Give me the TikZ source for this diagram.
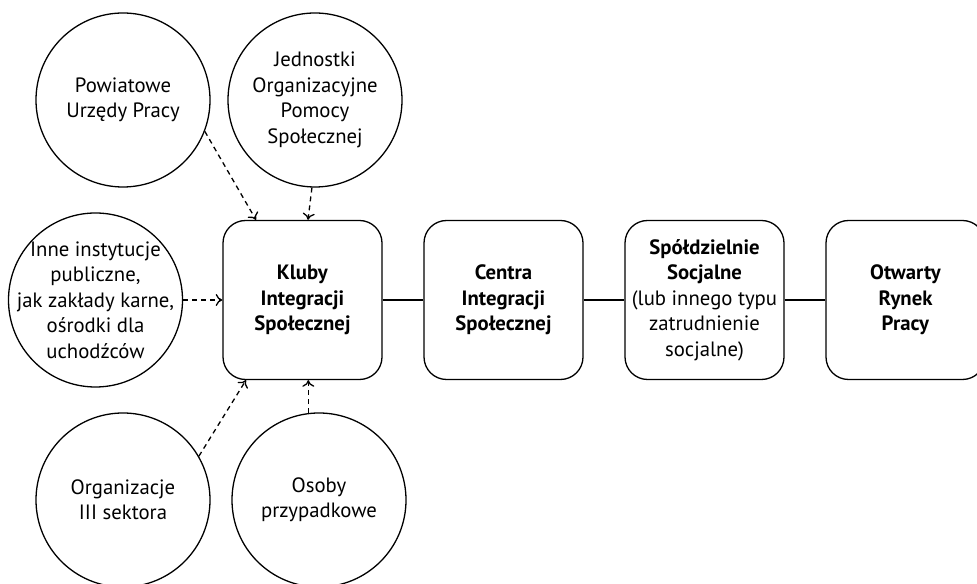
\documentclass[tikz,border=0pt]{standalone}
\usepackage{fontspec}
\setmainfont{PT Sans}
\usepackage{tikz}
\usetikzlibrary{positioning}
\usetikzlibrary{arrows.meta,calc}

\begin{document}
\begin{tikzpicture}[line width=0.74pt,>={To[length=3.8pt,width=6.8pt]}]
\tikzstyle{every node}=[font=\fontsize{11.8}{14.5}\selectfont,align=center]
\tikzstyle{source}=[circle,draw,minimum size=3.48cm,inner sep=-0.6cm]
\tikzstyle{stage}=[rectangle,rounded corners=0.45cm,draw,minimum size=3.18cm,inner sep=0pt]
\tikzstyle{feed}=[->,dash pattern=on 2.8pt off 2.3pt]

\useasboundingbox (0,0) rectangle (19.54,11.66);

% \draw[help lines] (0,0) grid (20,12);

\node[source] (powiatowe) at (2.46,9.66) {Powiatowe\\Urzędy Pracy};
\node[source] (jednostki) at (6.30,9.66) {Jednostki\\Organizacyjne\\Pomocy\\Społecznej};
\node[source] (inne) at (1.91,5.66) {Inne instytucje\\publiczne,\\jak zakłady karne,\\ośrodki dla\\uchodźców};
\node[source] (organizacje) at (2.46,1.66) {Organizacje\\III sektora};
\node[source] (osoby) at (6.38,1.66) {Osoby\\przypadkowe};

\node[stage] (kluby) at (6.05,5.66) {\textbf{Kluby}\\\textbf{Integracji}\\\textbf{Społecznej}};
\node[stage] (centra) at (10.07,5.66) {\textbf{Centra}\\\textbf{Integracji}\\\textbf{Społecznej}};
\node[stage] (spoldzielnie) at (14.09,5.66) {\textbf{Spółdzielnie}\\\textbf{Socjalne}\\(lub innego typu\\zatrudnienie\\socjalne)};
\node[stage] (rynek) at (18.11,5.66) {\textbf{Otwarty}\\\textbf{Rynek}\\\textbf{Pracy}};

\path (kluby) edge (centra);
\path (centra) edge (spoldzielnie);
\path (spoldzielnie) edge (rynek);

\draw[feed] (powiatowe.-21) -- ($(kluby.north)+(-0.93,0)$);
\draw[feed] (jednostki.268) -- ($(kluby.north)+(0.11,0)$);
\draw[feed] (inne.east) -- (kluby.west);
\draw[feed] (organizacje.30) -- ($(kluby.south)+(-1.13,0)$);
\draw[feed] (osoby.97) -- (osoby.97 |- kluby.south);

\end{tikzpicture}
\end{document}
